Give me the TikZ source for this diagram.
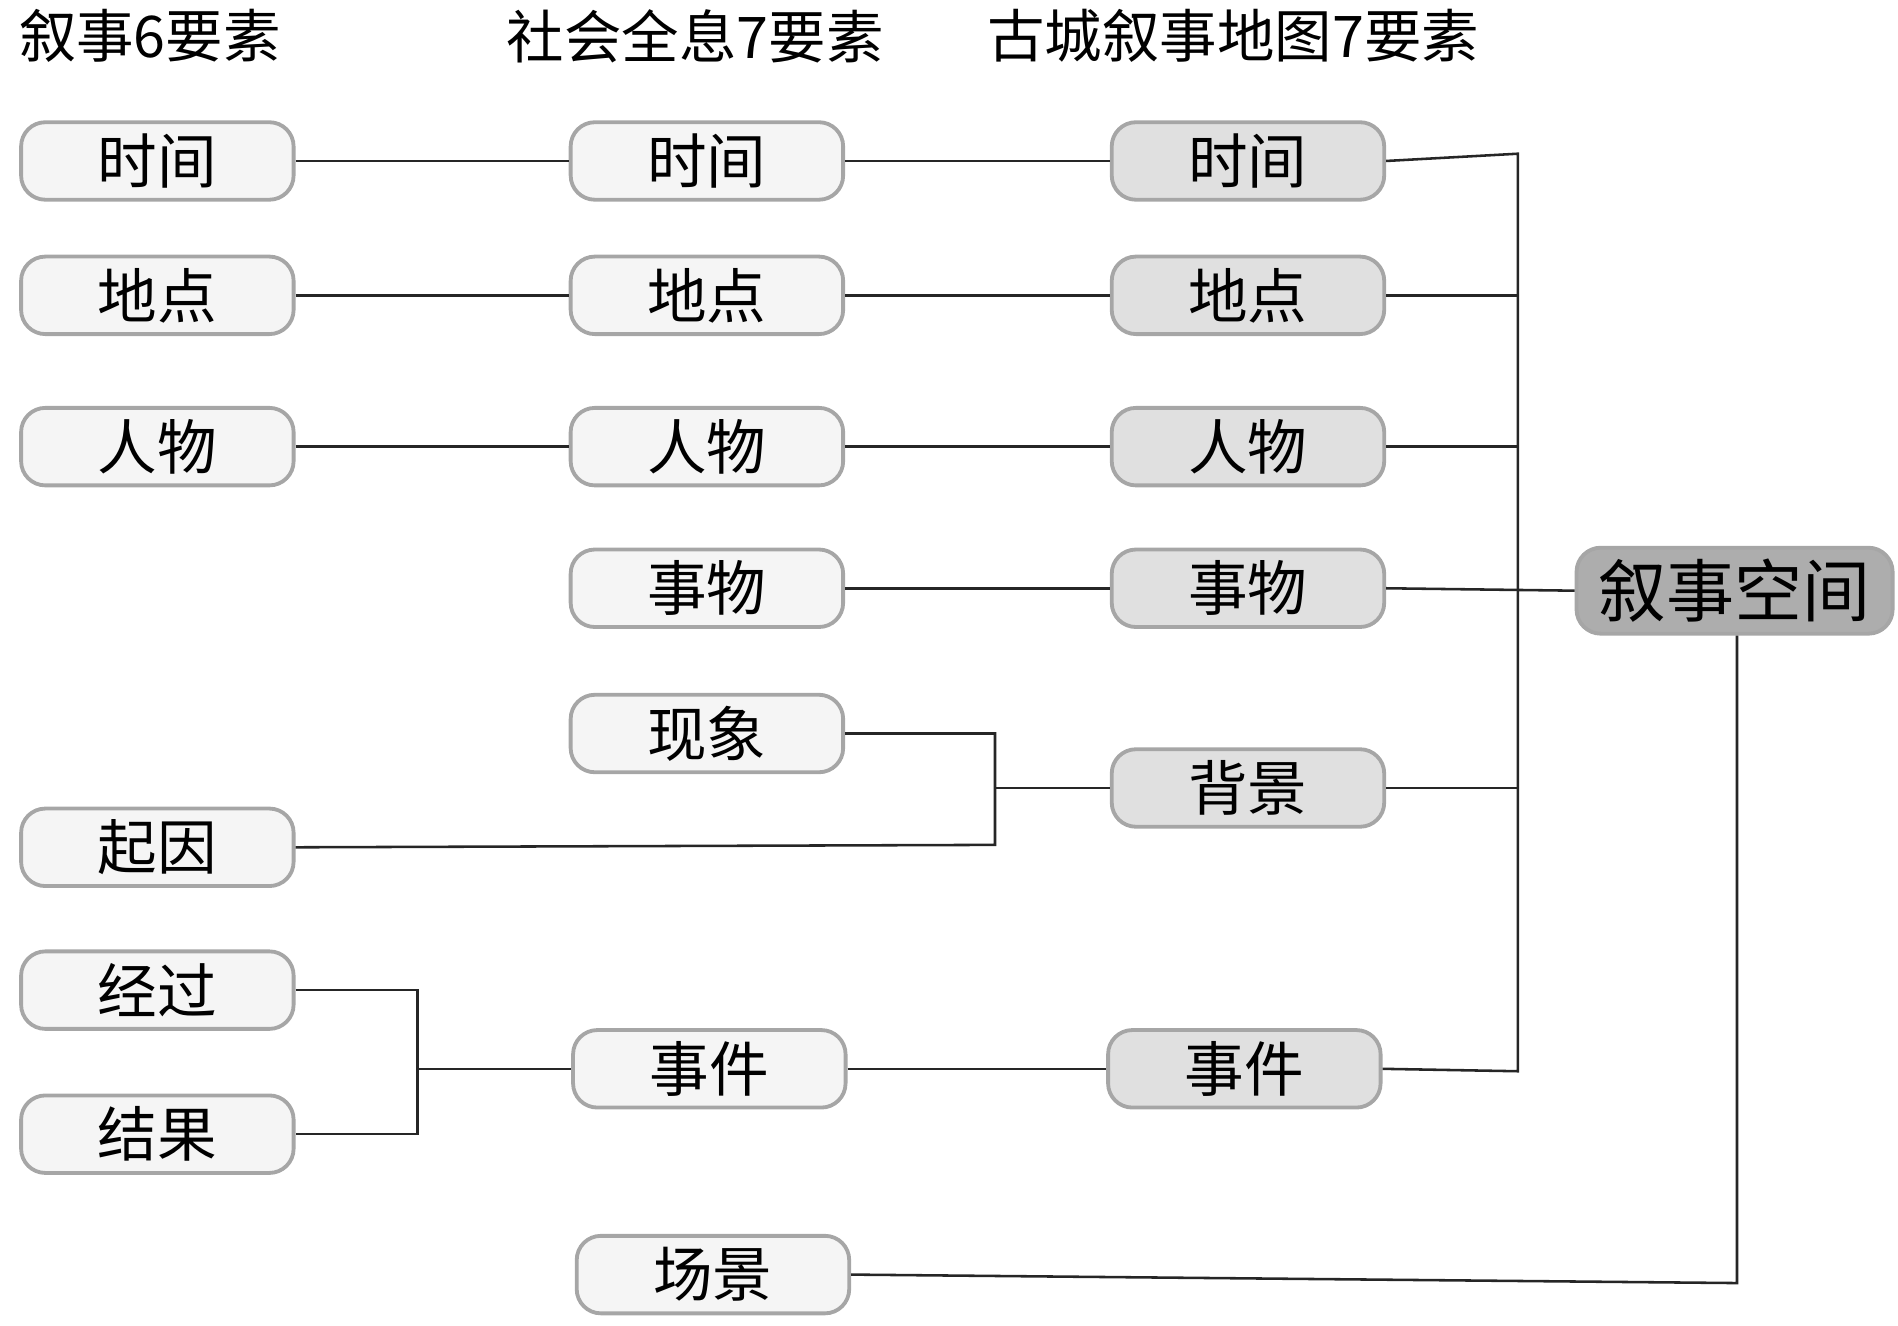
\documentclass[tikz,border=0pt]{standalone}
\usepackage{fontspec}
\setmainfont{Liberation Serif}
\newfontfamily\cjk{Noto Sans CJK SC}
\begin{document}
\begin{tikzpicture}[x=0.01cm,y=-0.01cm,
 box/.style={draw=black!35,line width=0.9pt,rounded corners=0.2cm,minimum width=2.25cm,minimum height=0.64cm,font=\cjk\fontsize{14}{16}\selectfont,inner sep=0pt},
 b1/.style={box,fill=black!4},
 b3/.style={box,fill=black!12},
 ln/.style={draw=black!85,line width=0.6pt},
 ttl/.style={anchor=west,font=\cjk\fontsize{13.5}{16}\selectfont,inner sep=0pt}]
\useasboundingbox (0,0) rectangle (1568,1095);
\node[ttl] (t1) at (15,30) {叙事6要素};
\node[ttl] (t2) at (418,30) {社会全息7要素};
\node[ttl] (t3) at (815,30) {古城叙事地图7要素};
% column 1
\node[b1] (a1) at (130,133) {时间};
\node[b1] (a2) at (130,244) {地点};
\node[b1] (a3) at (130,369) {人物};
\node[b1] (a4) at (130,700) {起因};
\node[b1] (a5) at (130,818) {经过};
\node[b1] (a6) at (130,937) {结果};
% column 2
\node[b1] (m1) at (584,133) {时间};
\node[b1] (m2) at (584,244) {地点};
\node[b1] (m3) at (584,369) {人物};
\node[b1] (m4) at (584,486) {事物};
\node[b1] (m5) at (584,606) {现象};
\node[b1] (m6) at (586,883) {事件};
\node[b1] (m7) at (589,1053) {场景};
% column 3
\node[b3] (c1) at (1031,133) {时间};
\node[b3] (c2) at (1031,244) {地点};
\node[b3] (c3) at (1031,369) {人物};
\node[b3] (c4) at (1031,486) {事物};
\node[b3] (c5) at (1031,651) {背景};
\node[b3] (c6) at (1028,883) {事件};
\node[box,fill=black!32,minimum width=2.61cm,minimum height=0.71cm,font=\cjk\fontsize{16}{18}\selectfont] (s) at (1433,488) {叙事空间};
% lines
\foreach \i in {1,2,3} {\draw[ln] (a\i) -- (m\i);}
\foreach \i in {1,2,3,4} {\draw[ln] (m\i) -- (c\i);}
\draw[ln] (m6) -- (c6);
\coordinate (bt) at (1254,127);
\coordinate (bb) at (1254,885);
\draw[ln] (c1.east) -- (bt) -- (bb) -- (c6.east);
\foreach \i in {2,3,5} {\draw[ln] (c\i.east) -- (1254,0 |- c\i.east);}
\draw[ln] (c4.east) -- (s.west);
\coordinate (j1) at (822,606);
\coordinate (j2) at (822,698);
\draw[ln] (m5.east) -- (j1) -- (j2) -- (a4.east);
\draw[ln] (c5.west) -- (822,0 |- c5.west);
\coordinate (k1) at (345,818);
\coordinate (k2) at (345,937);
\draw[ln] (a5.east) -- (k1) -- (k2) -- (a6.east);
\draw[ln] (345,0 |- m6.west) -- (m6.west);
\coordinate (q) at (1435,1060);
\draw[ln] (m7.east) -- (q) -- (q |- s.south);
\end{tikzpicture}
\end{document}
